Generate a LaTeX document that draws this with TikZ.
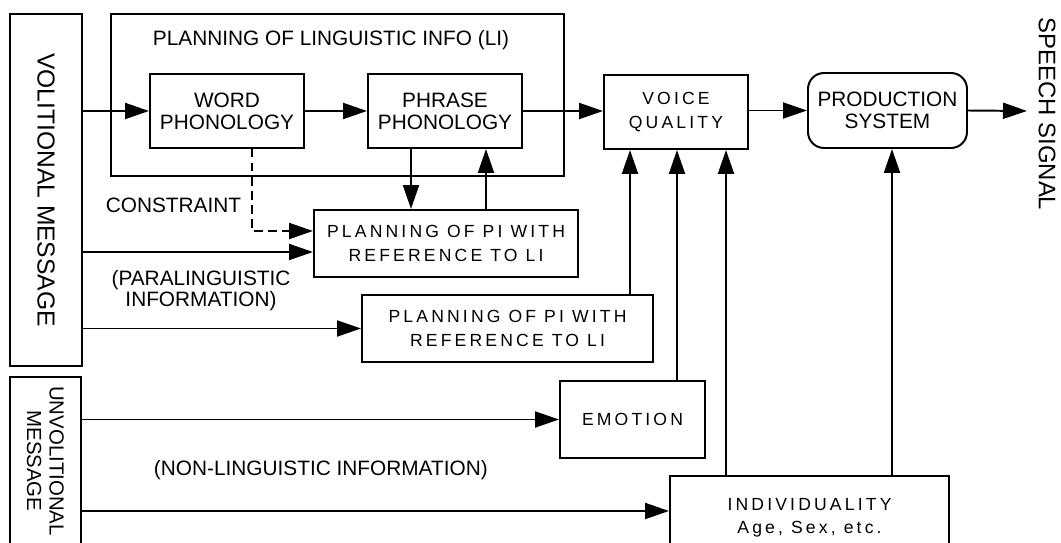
\documentclass[tikz,border=0pt]{standalone}
\usepackage{fontspec}
\setmainfont{Liberation Sans}
\newfontfamily\spacedfont[LetterSpace=18]{Liberation Sans}
\usetikzlibrary{arrows.meta,calc}

\begin{document}
\begin{tikzpicture}[
    x=0.025cm, y=-0.025cm,
    line width=1.4pt,
    sz/.style 2 args={minimum width=#1*0.025cm, minimum height=#2*0.025cm},
    box/.style={draw, inner sep=0pt, align=center, font=\fontsize{14.8}{15.8}\selectfont},
    spbox/.style={box, font=\spacedfont\fontsize{12.5}{16.5}\selectfont},
    lbl/.style={inner sep=0pt, align=center, font=\fontsize{14.8}{15}\selectfont},
    vlbl/.style={lbl, rotate=-90},
    arr/.style={-{Triangle[length=0.6cm,width=0.4cm]}},
    dash line/.style={dash pattern=on 6pt off 4pt}]

\useasboundingbox (0,0) rectangle (1061,543);
\clip (0,0) rectangle (1061,543);

% sources
\node[box, sz={72}{352}] (vol) at (46,190) {};
\node[vlbl, font=\fontsize{17.5}{20}\selectfont] (voltxt) at (vol) {VOLITIONAL MESSAGE};
\node[box, sz={71}{176}] (unvol) at (45.5,465) {};
\node[vlbl, font=\fontsize{14.5}{15}\selectfont] (unvoltxt) at (45.5,461) {UNVOLITIONAL\\[1pt]MESSAGE};

% planning of linguistic info
\node[box, sz={453}{162}] (li) at (337.5,95) {};
\node[lbl] (lititle) at (331,40) {PLANNING OF LINGUISTIC INFO (LI)};
\node[box, sz={154}{74}] (word) at (227,111) {WORD\\PHONOLOGY};
\node[box, sz={154}{74}] (phrase) at (445,111) {PHRASE\\PHONOLOGY};

% paralinguistic planning
\node[spbox, sz={264}{67}] (pi1) at (446,243.5) {PLANNING OF PI WITH\\REFERENCE TO LI};
\node[spbox, sz={291}{67}] (pi2) at (507.5,328.5) {PLANNING OF PI WITH\\REFERENCE TO LI};
\node[spbox, sz={145}{77}] (emo) at (632.5,419.5) {EMOTION};
\node[spbox, sz={279}{84}] (indiv) at (809.5,518) {INDIVIDUALITY\\Age, Sex, etc.};

% output side
\node[spbox, sz={144}{74}] (voice) at (676,112) {VOICE\\QUALITY};
\node[box, sz={159}{75}, rounded corners=0.4cm] (prod) at (887.5,110.5) {PRODUCTION\\SYSTEM};
\node[vlbl, font=\fontsize{17}{20}\selectfont] (speech) at (1047,114) {SPEECH SIGNAL};
\coordinate (sig) at (1027,111);

% side labels
\node[lbl] (constr) at (173.5,205) {CONSTRAINT};
\node[lbl] (para) at (201,291) {(PARALINGUISTIC\\INFORMATION)};
\node[lbl, anchor=west] (nonling) at (153,470) {(NON-LINGUISTIC INFORMATION)};

% main chain
\draw[arr] (vol.east |- word.west) -- (word.west);
\draw[arr] (word.east) -- (phrase.west);
\draw[arr] (phrase.east) -- (voice.west |- phrase.east);
\draw[arr] (voice.east |- prod.west) -- (prod.west);
\draw[arr] (prod.east) -- (sig);

% phrase <-> pi
\draw[arr] ($(phrase.south)+(-34,0)$) coordinate (pd) -- (pd |- pi1.north);
\draw[arr] ($(pi1.north)+(40,0)$) coordinate (pu) -- (pu |- phrase.south);
\coordinate (cin) at ($(pi1.west)+(0,-12.5)$);
\draw[arr, dash line] ($(word.south)+(25,0)$) |- (cin);
\coordinate (vin) at ($(pi1.west)+(0,8.5)$);
\draw[arr] (vol.east |- vin) -- (vin);
\draw[arr] (vol.east |- pi2.west) -- (pi2.west);

% into voice quality and production
\draw[arr] ($(pi2.north)+(122.5,0)$) coordinate (a) -- (a |- voice.south);
\draw[arr] ($(emo.north)+(44.5,0)$) coordinate (b) -- (b |- voice.south);
\draw[arr] ($(indiv.north)+(-83.5,0)$) coordinate (c) -- (c |- voice.south);
\draw[arr] ($(indiv.north)+(82.5,0)$) coordinate (d) -- (d |- prod.south);

% unvolitional inputs
\draw[arr] (unvol.east |- emo.west) -- (emo.west);
\coordinate (iin) at ($(indiv.west)+(0,-7)$);
\draw[arr] (unvol.east |- iin) -- (iin);

\end{tikzpicture}
\end{document}
